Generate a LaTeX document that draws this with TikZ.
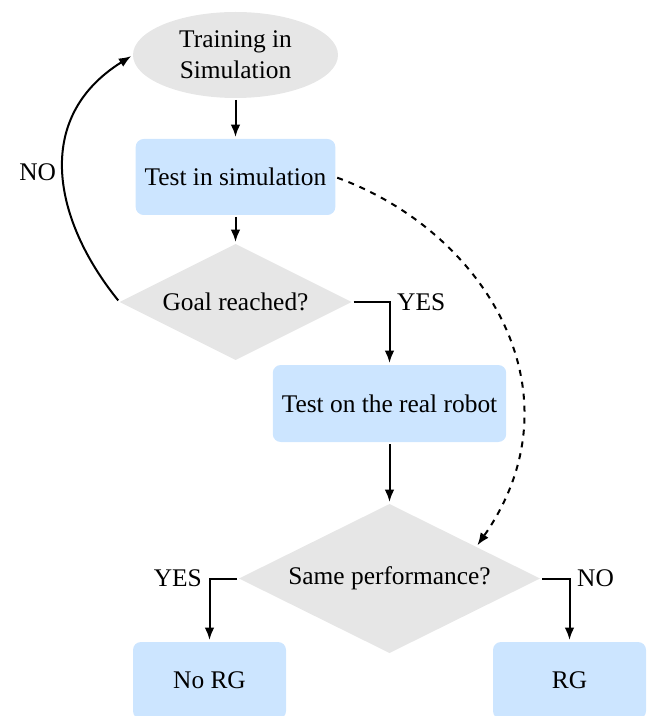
\documentclass[tikz,border=0pt]{standalone}
\usepackage{fontspec}
\setmainfont{Liberation Serif}
\usepackage{xcolor}
\usepackage{tikz}
\usetikzlibrary{positioning,shapes.geometric,arrows.meta}

\definecolor{boxblue}{HTML}{CCE5FF}
\definecolor{shapegray}{HTML}{E6E6E6}

\begin{document}
\begin{tikzpicture}[
    font=\fontsize{12.7}{15.5}\selectfont,
    stage/.style={ellipse, fill=shapegray, align=center, inner sep=0pt, outer sep=0pt, minimum width=102.5pt, minimum height=43pt},
    block/.style={rectangle, rounded corners=4pt, fill=boxblue, align=center, inner xsep=4.5pt, outer sep=0pt, minimum height=38.5pt},
    decision/.style={diamond, aspect=2, fill=shapegray, inner sep=0pt, outer sep=0pt},
    line/.style={-{Latex[length=6.2pt,width=4.8pt]}, line width=1pt, shorten <=1pt, shorten >=1pt}
]
\useasboundingbox (0,0) rectangle (324.5pt,-358pt);

\node[stage] (train) at (117.75pt,-27.5pt) {Training in\\Simulation};
\node[block, minimum height=38pt, below=20.5pt of train] (sim) {Test in simulation};
\node[decision, minimum width=116pt, minimum height=58pt, below=14.5pt of sim] (goal) {Goal reached?};
\node[block, below=2.5pt of goal, xshift=77pt] (real) {Test on the real robot};
\node[decision, minimum width=150.5pt, minimum height=74.5pt, below=31pt of real] (same) {Same performance?};
\node[block, minimum width=76.5pt, below=-5.5pt of same, xshift=-90pt] (norg) {No RG};
\node[block, minimum width=76.5pt, below=-5.5pt of same, xshift=90pt] (rg) {RG};

\draw[line] (train) -- (sim);
\draw[line] (sim) -- (goal);
\draw[line] (goal.east) -| node[pos=0.5, right] {YES} (real);
\draw[line] (goal.west) to[out=129, in=212, out distance=51.9pt, in distance=59.8pt] node[pos=0.5, left] {NO} (train.west);
\draw[line] (real) -- (same);
\draw[line, dashed] (sim.east) to[out=-20, in=55, out distance=79.4pt, in distance=94.2pt] (same.20);
\draw[line] (same.west) -| node[pos=0.5, left] {YES} (norg);
\draw[line] (same.east) -| node[pos=0.5, right] {NO} (rg);

\end{tikzpicture}
\end{document}
